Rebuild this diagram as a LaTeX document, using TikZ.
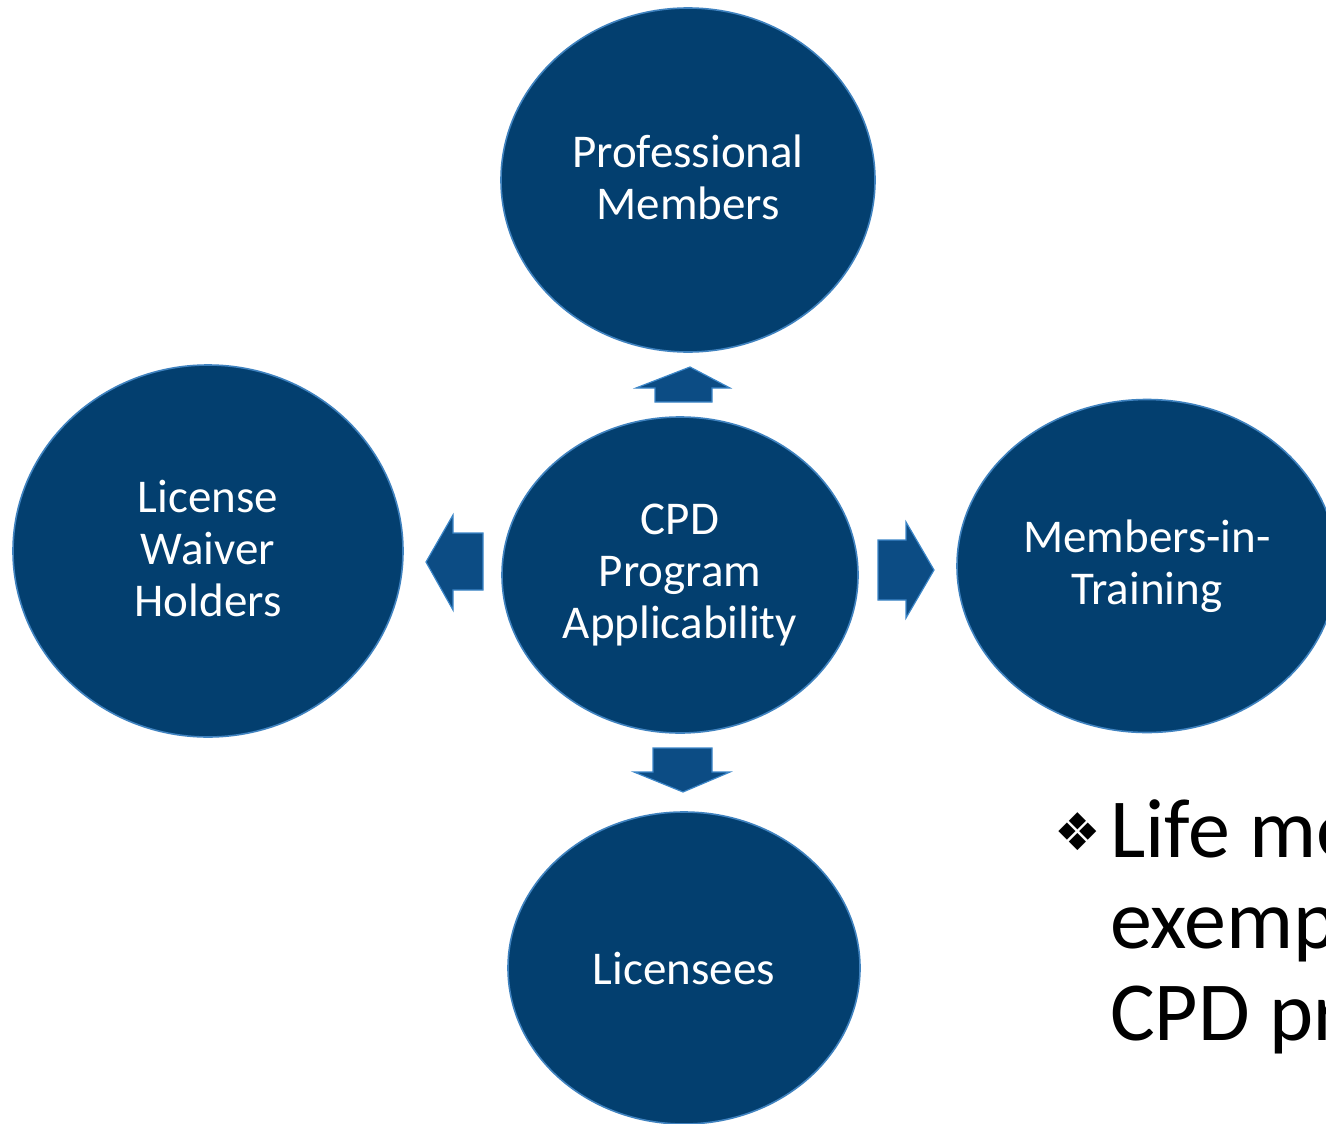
\documentclass[tikz,border=0pt]{standalone}
\usepackage{fontspec}
\setmainfont{Carlito}
\newfontfamily\symfont{DejaVu Sans}
\usetikzlibrary{shapes.geometric}
\definecolor{discblue}{HTML}{033F6F}
\definecolor{rimblue}{HTML}{3F82BF}
\definecolor{arrowblue}{HTML}{0C4C84}
\definecolor{arrowrim}{HTML}{3C86C8}
\begin{document}
\begin{tikzpicture}[x=1pt,y=-1pt,
  disc/.style={ellipse, fill=discblue, draw=rimblue, line width=1.6pt, text=white,
    font=\fontsize{47}{52}\selectfont, align=center, inner sep=0pt},
  blockarrow/.style={fill=arrowblue, draw=arrowrim, line width=1.2pt, line join=miter},
  bullettext/.style={anchor=base west, inner sep=0pt, font=\fontsize{84}{92}\selectfont}]
\useasboundingbox (0,0) rectangle (1326,1124);
\clip (0,0) rectangle (1326,1124);
\fill[white] (0,0) rectangle (1326,1124);
\node[disc, minimum width=374pt, minimum height=344pt] (top) at (688,180) {};
\node[text=white, font=\fontsize{47}{52}\selectfont, align=center] (toptxt) at (top.center) [yshift=3pt] {Professional\\Members};
\node[disc, minimum width=356pt, minimum height=316pt] (center) at (680,575) {CPD\\Program\\Applicability};
\node[disc, minimum width=390pt, minimum height=372pt] (left) at (208,551) {};
\node[text=white, font=\fontsize{47}{52}\selectfont, align=center] (lefttxt) at (left.center) [yshift=3pt] {License\\Waiver\\Holders};
\node[disc, minimum width=380pt, minimum height=333pt] (right) at (1147,566) {Members-in-\\Training};
\node[disc, minimum width=352pt, minimum height=312pt] (bottom) at (684,968) {Licensees};
% block arrows
\draw[blockarrow] (690,367) -- (730,388) -- (712,388) -- (712,402) -- (655,402) -- (655,388) -- (636,388) -- cycle;
\draw[blockarrow] (426,562) -- (453,515) -- (453,533) -- (483,533) -- (483,590) -- (453,590) -- (453,610) -- cycle;
\draw[blockarrow] (934,570) -- (906,618) -- (906,600) -- (878,600) -- (878,540) -- (906,540) -- (906,522) -- cycle;
\draw[blockarrow] (683,792) -- (730,772) -- (712,772) -- (712,748) -- (653,748) -- (653,772) -- (634,772) -- cycle;
% bullet text
\node[inner sep=0pt, font=\symfont\fontsize{52}{52}\selectfont] (bul) at (1078,832) {❖};
\node[bullettext] (l1) at (1110,857) {Life members are};
\node[bullettext] (l2) at (1110,948) {exempt from the};
\node[bullettext] (l3) at (1110,1040) {CPD program};
\end{tikzpicture}
\end{document}
